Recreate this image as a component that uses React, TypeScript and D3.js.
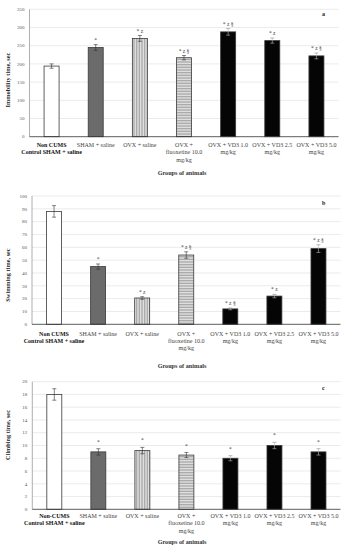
import React from "react";
import * as d3 from "d3";

const groups = ["Non CUMS", "SHAM + saline", "OVX + saline", "OVX + fluoxetine 10.0 mg/kg", "OVX + VD3 1.0 mg/kg", "OVX + VD3 2.5 mg/kg", "OVX + VD3 5.0 mg/kg"];
const labelLinesAB = [["Non CUMS", "Control SHAM + saline"], ["SHAM +  saline"], ["OVX + saline"], ["OVX +", "fluoxetine 10.0", "mg/kg"], ["OVX + VD3 1.0", "mg/kg"], ["OVX + VD3 2.5", "mg/kg"], ["OVX + VD3 5.0", "mg/kg"]];
const labelLinesC = [["Non-CUMS", "Control SHAM + saline"], ["SHAM +  saline"], ["OVX + saline"], ["OVX +", "fluoxetine 10.0", "mg/kg"], ["OVX + VD3 1.0", "mg/kg"], ["OVX + VD3 2.5", "mg/kg"], ["OVX + VD3 5.0", "mg/kg"]];

const immobility = [194, 245, 270, 217, 288, 264, 222];
const immobilityErr = [6, 8, 8, 6, 9, 7, 8];
const immobilityMarks = ["", "*", "* z", "* z §", "* z §", "* z", "* z §"];
const immobilityTicks = [0, 50, 100, 150, 200, 250, 300, 350];

const swimming = [88, 45, 20.5, 54, 12, 22, 59];
const swimmingErr = [4.5, 2, 1, 2.5, 0.7, 1.3, 3];
const swimmingMarks = ["", "*", "* z", "* z §", "* z §", "* z", "* z §"];
const swimmingTicks = [0, 10, 20, 30, 40, 50, 60, 70, 80, 90, 100];

const climbing = [18, 9, 9.2, 8.5, 8, 10, 9];
const climbingErr = [0.9, 0.5, 0.5, 0.4, 0.4, 0.5, 0.5];
const climbingMarks = ["", "*", "*", "*", "*", "*", "*"];
const climbingTicks = [0, 2, 4, 6, 8, 10, 12, 14, 16, 18, 20];

const fills = ["#ffffff", "#6b6b6b", "url(#vstripe)", "url(#hstripe)", "#050505", "#050505", "#050505"];
const FONT = "'Liberation Serif', 'DejaVu Serif', serif";

type PanelProps = {
  top: number; bottom: number; left: number; right: number;
  values: number[]; errs: number[]; marks: string[]; ticks: number[];
  yLabel: string; yLabelY: number; letter: string; letterY: number; labels: string[][];
  labelY: number; groupsY: number; markGap: number;
};

function Panel(p: PanelProps) {
  const yMax = p.ticks[p.ticks.length - 1];
  const y = d3.scaleLinear().domain([0, yMax]).range([p.bottom, p.top]);
  const x = d3.scaleBand<string>().domain(groups).range([p.left, p.right]).paddingInner(0.66).paddingOuter(0.33);
  const bw = x.bandwidth();
  return (
    <g>
      {p.ticks.map((t) => (
        <g key={t}>
          {t > 0 && <line x1={p.left} x2={p.right} y1={y(t)} y2={y(t)} stroke="#e2e2e2" strokeWidth={0.7} />}
          <text x={p.left - 5} y={y(t)} dy="0.35em" textAnchor="end" fontSize={5} fill="#555" fontFamily={FONT}>{t}</text>
        </g>
      ))}
      <line x1={p.left} x2={p.left} y1={p.top} y2={p.bottom} stroke="#9a9a9a" strokeWidth={0.8} />
      {groups.map((g, i) => {
        const cx = (x(g) as number) + bw / 2;
        const v = p.values[i];
        const e = p.errs[i];
        return (
          <g key={g}>
            <rect x={x(g)} y={y(v)} width={bw} height={p.bottom - y(v)} fill={fills[i]} stroke="#3a3a3a" strokeWidth={0.8} />
            <line x1={cx} x2={cx} y1={y(v + e)} y2={y(v - e)} stroke={i >= 4 ? "#bbb" : "#333"} strokeWidth={0.6} />
            <line x1={cx - 2} x2={cx + 2} y1={y(v + e)} y2={y(v + e)} stroke={i >= 4 ? "#888" : "#333"} strokeWidth={0.6} />
            <line x1={cx - 2} x2={cx + 2} y1={y(v - e)} y2={y(v - e)} stroke={i >= 4 ? "#bbb" : "#333"} strokeWidth={0.6} />
            {p.marks[i] && (
              <text x={cx} y={y(v + e) - p.markGap} textAnchor="middle" fontSize={5.5} fill="#444" fontFamily={FONT}>{p.marks[i]}</text>
            )}
            {p.labels[i].map((ln, j) => (
              <text key={j} x={cx} y={p.labelY + j * 7.3} textAnchor="middle" fontSize={6}
                fontWeight={i === 0 ? "bold" : "normal"} fill={i === 0 ? "#111" : "#444"} fontFamily={FONT}>{ln}</text>
            ))}
          </g>
        );
      })}
      <line x1={p.left} x2={p.right} y1={p.bottom} y2={p.bottom} stroke="#333" strokeWidth={0.8} />
      <text x={322} y={p.letterY} fontSize={6} fontWeight="bold" fill="#222" fontFamily={FONT}>{p.letter}</text>
      <text transform={`translate(10,${p.yLabelY}) rotate(-90)`} textAnchor="middle" fontSize={6.3}
        fontWeight="bold" fill="#222" fontFamily={FONT}>{p.yLabel}</text>
      <text x={182} y={p.groupsY} textAnchor="middle" fontSize={6.2} fontWeight="bold" fill="#333" fontFamily={FONT}>Groups of animals</text>
    </g>
  );
}

export default function App() {
  return (
    <svg width={342} height={550} style={{ position: "absolute", left: 0, top: 0, background: "#fff" }}>
      <defs>
        <pattern id="vstripe" width={1.6} height={4} patternUnits="userSpaceOnUse">
          <rect width={1.6} height={4} fill="#e6e6e6" />
          <rect width={0.7} height={4} fill="#9a9a9a" />
        </pattern>
        <pattern id="hstripe" width={4} height={1.6} patternUnits="userSpaceOnUse">
          <rect width={4} height={1.6} fill="#e6e6e6" />
          <rect width={4} height={0.7} fill="#9a9a9a" />
        </pattern>
      </defs>
      <rect width={342} height={550} fill="#fff" />
      <Panel top={9.3} bottom={136.7} left={29.5} right={338.5} values={immobility} errs={immobilityErr}
        marks={immobilityMarks} ticks={immobilityTicks} yLabel="Immobility time, sec" yLabelY={80} letter="a" letterY={16}
        labels={labelLinesAB} labelY={147} groupsY={175} markGap={3} />
      <Panel top={196} bottom={324.3} left={32} right={340.5} values={swimming} errs={swimmingErr}
        marks={swimmingMarks} ticks={swimmingTicks} yLabel="Swimming time, sec" yLabelY={275} letter="b" letterY={204.5}
        labels={labelLinesAB} labelY={335.5} groupsY={368} markGap={3} />
      <Panel top={381.7} bottom={509.3} left={32.3} right={340.5} values={climbing} errs={climbingErr}
        marks={climbingMarks} ticks={climbingTicks} yLabel="Climbing time, sec" yLabelY={435} letter="c" letterY={390}
        labels={labelLinesC} labelY={518} groupsY={544} markGap={5} />
    </svg>
  );
}
